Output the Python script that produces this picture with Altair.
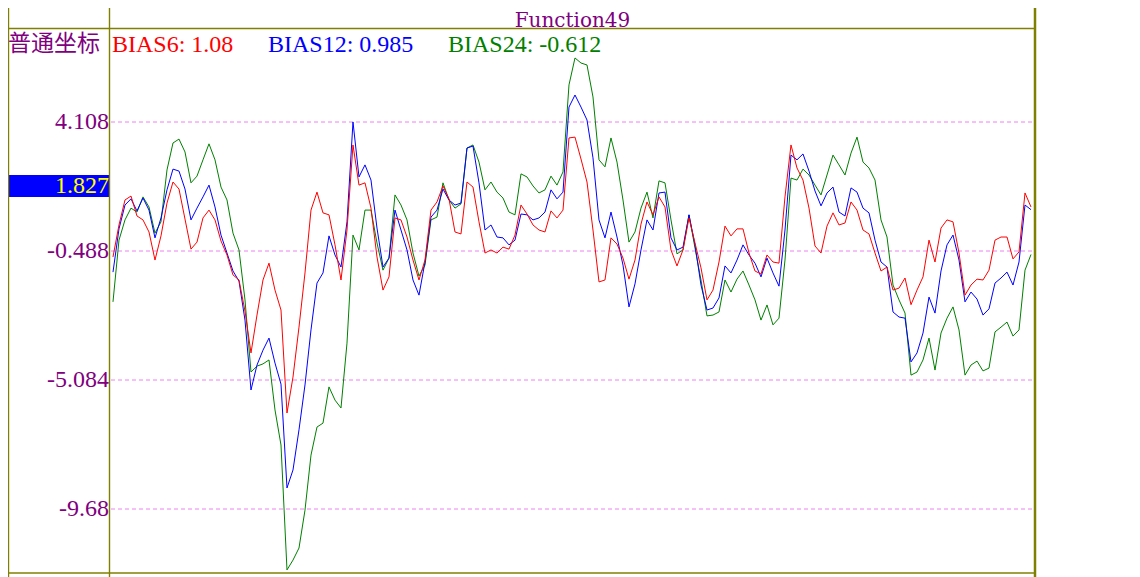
import altair as alt
import pandas as pd

# BIAS lines, one value per bar
bias6 = [-0.70, 0.44, 1.33, 1.47, 0.76, 0.62, 0.19, -0.81, 0.05, 1.22,
         1.97, 1.72, 0.65, -0.42, -0.17, 0.69, 0.97, 0.62, -0.13, -0.63,
         -1.34, -1.52, -2.63, -4.12, -2.77, -1.52, -0.92, -1.88, -2.59, -6.26,
         -4.98, -3.20, -1.27, 0.97, 1.61, 0.87, 0.80, -0.27, -1.52, 0.26,
         3.29, 1.86, 1.94, 1.04, -0.70, -1.88, -1.41, 0.69, 0.62, 0.01,
         -0.81, -1.52, -0.81, 0.97, 1.26, 1.83, 1.37, 0.19, 0.12, 1.97,
         1.79, 0.55, -0.56, -0.45, -0.56, -0.35, -0.42, 0.08, 1.15, 0.83,
         0.44, 0.26, 0.19, 0.94, 0.69, 0.97, 3.54, 3.57, 2.79, 1.97,
         0.26, -1.59, -1.52, -0.02, -0.24, -0.74, -1.49, -0.81, 0.47, 1.26,
         0.80, 1.44, 1.08, -0.45, -1.02, -0.45, 0.69, -0.20, -1.09, -2.23,
         -1.88, -0.88, 0.40, 0.05, 0.30, 0.30, -0.56, -1.20, -1.31, -0.63,
         -0.88, -0.92, 1.44, 3.29, 2.47, 2.04, 1.04, -0.31, -0.56, 0.40,
         0.87, 0.44, 0.51, 1.26, 0.97, 0.26, 0.12, -0.56, -1.20, -1.06,
         -1.88, -1.81, -1.45, -2.40, -1.88, -1.41, -0.10, -0.88, 0.33, 0.62,
         0.55, -0.56, -2.06, -1.70, -1.49, -1.52, -1.17, -0.10, 0.01, 0.01,
         -0.77, -0.52, 1.58, 1.08]

bias12 = [-1.24, 0.30, 1.15, 1.37, 0.94, 1.40, 0.97, -0.02, 0.69, 1.69,
          2.43, 2.36, 1.72, 0.62, 1.04, 1.44, 1.86, 1.08, 0.08, -0.56,
          -1.20, -1.56, -2.95, -5.44, -4.55, -4.02, -3.59, -4.48, -5.23, -8.93,
          -8.29, -6.86, -5.26, -3.30, -1.63, -1.27, 0.05, -0.63, -1.06, 0.55,
          4.11, 2.15, 2.58, 2.04, 0.33, -1.06, -0.74, 0.97, 0.26, -0.45,
          -1.52, -2.06, -0.88, 0.72, 0.97, 1.72, 1.33, 1.15, 1.22, 3.18,
          3.25, 1.94, 0.26, 0.44, 0.01, -0.02, -0.27, -0.10, 0.83, 0.80,
          0.62, 0.69, 0.90, 1.69, 1.37, 1.61, 4.64, 5.07, 4.64, 4.18,
          2.83, 0.62, -0.02, 0.90, 0.01, -0.99, -2.48, -1.66, -0.45, 0.62,
          0.26, 1.58, 1.61, -0.02, -0.45, -0.35, 0.80, -0.27, -1.70, -2.59,
          -2.52, -2.16, -1.02, -1.27, -0.81, -0.27, -0.63, -0.92, -1.41, -0.74,
          -1.27, -1.74, 0.26, 2.93, 2.76, 2.97, 2.36, 1.65, 1.12, 1.58,
          1.79, 0.90, 0.76, 1.76, 1.61, 1.04, 0.87, -0.10, -0.88, -1.06,
          -2.66, -2.84, -2.88, -4.44, -4.12, -3.41, -2.13, -2.70, -1.20, -0.27,
          0.08, -0.81, -2.30, -1.95, -2.20, -2.77, -2.55, -1.63, -1.45, -1.24,
          -1.70, -0.88, 1.15, 0.985]

bias24 = [-2.30, -0.10, 0.62, 1.04, 0.90, 1.44, 1.08, 0.15, 0.55, 2.40,
          3.36, 3.50, 3.04, 1.94, 2.18, 2.76, 3.33, 2.76, 1.79, 1.33,
          0.15, -0.45, -2.23, -4.80, -4.59, -4.51, -4.37, -6.15, -7.40, -11.85,
          -11.50, -11.07, -9.72, -7.76, -6.76, -6.62, -5.33, -5.80, -6.08, -3.77,
          0.08, -0.45, 0.97, 0.97, -0.20, -1.17, -0.74, 1.51, 1.15, 0.62,
          -0.56, -1.38, -0.99, 0.62, 0.72, 1.94, 1.33, 1.04, 1.19, 3.18,
          3.29, 2.68, 1.69, 1.97, 1.61, 1.40, 0.90, 0.80, 2.26, 2.15,
          1.83, 1.58, 1.69, 2.18, 1.86, 2.33, 5.43, 6.39, 6.21, 6.14,
          5.00, 2.76, 2.51, 3.54, 2.68, 1.33, -0.17, 0.19, 1.04, 1.61,
          0.69, 2.01, 1.94, 0.62, -0.59, -0.45, 0.80, -0.38, -1.52, -2.80,
          -2.77, -2.66, -1.52, -1.95, -1.49, -1.20, -1.70, -2.23, -2.95, -2.41,
          -3.12, -2.88, -0.81, 2.11, 2.04, 2.43, 2.22, 1.86, 1.51, 2.22,
          2.93, 2.58, 2.22, 3.00, 3.57, 2.68, 2.47, 2.04, 0.62, 0.01,
          -1.70, -2.23, -2.70, -4.91, -4.80, -4.37, -3.59, -4.73, -3.41, -2.88,
          -2.48, -3.30, -4.91, -4.55, -4.41, -4.76, -4.66, -3.37, -3.20, -3.02,
          -3.52, -3.30, -1.17, -0.612]

series_names = ["BIAS6", "BIAS12", "BIAS24"]
series_colors = ["#ff0000", "#0000ff", "#008000"]
series_values = [bias6, bias12, bias24]

tick_values = [4.108, -0.488, -5.084, -9.68]
tick_labels = ["4.108", "-0.488", "-5.084", "-9.68"]
cursor_value = 1.827

title_text = "Function49"
mode_text = "普通坐标"

W, H = 923, 543
FRAME = "#808000"
PURPLE = "#800080"
FONT = "Liberation Serif"

xscale = alt.Scale(domain=[-0.333, 153.5], nice=False, zero=False)
yscale = alt.Scale(domain=[-11.96, 7.386], nice=False, zero=False)

ticks = pd.DataFrame({"value": tick_values, "label": tick_labels})
one = pd.DataFrame({"k": [0]})  # single row for decorations

grid = alt.Chart(ticks).mark_rule(color="#f080f0", strokeWidth=1, strokeDash=[4, 3]).encode(
    y=alt.Y("value:Q", scale=yscale, axis=None),
    x=alt.value(0), x2=alt.value(W))
tick_text = alt.Chart(ticks).mark_text(align="right", baseline="middle", font=FONT,
                                       fontSize=24, color=PURPLE).encode(
    y=alt.Y("value:Q", scale=yscale, axis=None),
    x=alt.value(-2), text="label:N")

layers = [grid, tick_text]

# lines: green under blue under red
for name, color, vals in reversed(list(zip(series_names, series_colors, series_values))):
    df = pd.DataFrame({"bar": list(range(len(vals))), "value": vals})
    layers.append(alt.Chart(df).mark_line(color=color, strokeWidth=1).encode(
        x=alt.X("bar:Q", scale=xscale, axis=None),
        y=alt.Y("value:Q", scale=yscale, axis=None)))

# current value marker on the left axis
cur = pd.DataFrame({"value": [cursor_value]})
cur_box = alt.Chart(cur).mark_rect(color="#0000ff").transform_calculate(
    top="datum.value + 0.392", bot="datum.value - 0.392").encode(
    y=alt.Y("top:Q", scale=yscale, axis=None), y2="bot:Q",
    x=alt.value(-103), x2=alt.value(-2))
cur_text = alt.Chart(cur).mark_text(align="right", baseline="middle", font=FONT,
                                    fontSize=24, color="#ffff00").encode(
    y=alt.Y("value:Q", scale=yscale, axis=None), x=alt.value(-2),
    text=alt.value(f"{cursor_value}"))
layers += [cur_box, cur_text]

# frame
frame = [
    (dict(x=alt.value(-103), x2=alt.value(W + 1), y=alt.value(-1.5)), 1.4),
    (dict(x=alt.value(-103), x2=alt.value(W + 1), y=alt.value(H)), 1.4),
    (dict(x=alt.value(-1.5), y=alt.value(-22), y2=alt.value(H + 4)), 1.4),
    (dict(x=alt.value(-102.5), y=alt.value(-22), y2=alt.value(H + 4)), 1.4),
    (dict(x=alt.value(W + 1), y=alt.value(-22), y2=alt.value(H + 4)), 2.5),
]
for enc, sw in frame:
    layers.append(alt.Chart(one).mark_rule(color=FRAME, strokeWidth=sw).encode(**enc))

# title and legend line
layers.append(alt.Chart(one).mark_text(font="DejaVu Serif", fontSize=20,
                                       color=PURPLE, align="center", baseline="alphabetic").encode(
    x=alt.value(W / 2), y=alt.value(-3), text=alt.value(title_text)))
layers.append(alt.Chart(one).mark_text(font="Noto Sans CJK SC", fontSize=23, color=PURPLE,
                                       align="left", baseline="middle").encode(
    x=alt.value(-103), y=alt.value(14), text=alt.value(mode_text)))
legend_x = [1, 157, 337]
for name, color, vals, lx in zip(series_names, series_colors, series_values, legend_x):
    layers.append(alt.Chart(one).mark_text(font=FONT, fontSize=24, color=color,
                                           align="left", baseline="middle").encode(
        x=alt.value(lx), y=alt.value(15), text=alt.value(f"{name}: {vals[-1]}")))

chart = alt.layer(*layers).properties(
    width=W, height=H,
    autosize=alt.AutoSizeParams(type="none"),
    padding={"left": 103, "top": 22, "right": 98, "bottom": 4},
).configure_view(stroke=None)

chart.save("out.html", embed_options={"renderer": "svg", "actions": False})
